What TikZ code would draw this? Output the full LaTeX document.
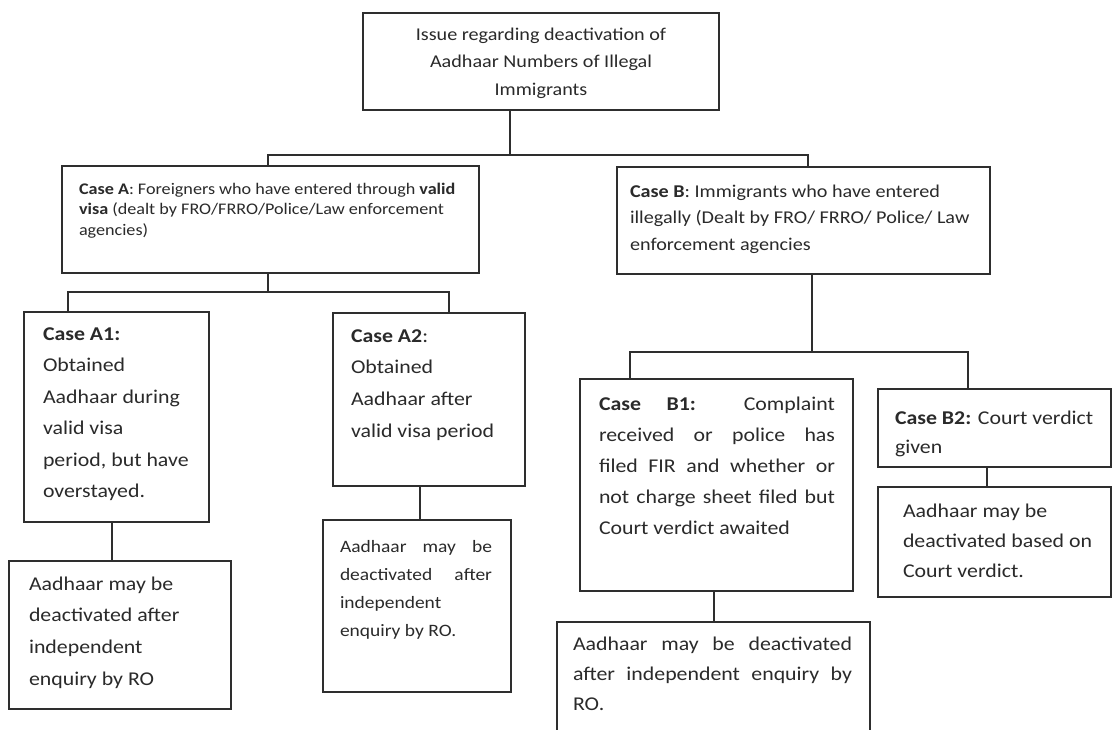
\documentclass[tikz,border=0pt]{standalone}
\usepackage{fontspec}
\setmainfont{Carlito}[FakeStretch=1.12]
\definecolor{linec}{HTML}{2E2E2E}
\definecolor{textc}{HTML}{2A2A2A}
\newcommand{\jl}[2]{\makebox[#1][s]{#2}}
\tikzset{
  box/.style={draw=linec, line width=1.3pt, inner sep=0pt, outer sep=0pt, anchor=north west},
  txt/.style={inner sep=0pt, outer sep=0pt, anchor=base west, text=textc},
  conn/.style={draw=linec, line width=1.3pt},
}
\begin{document}
\begin{tikzpicture}[x=1pt,y=-1pt]
\useasboundingbox (0,0) rectangle (1112,729);
\clip (0,0) rectangle (1112,729);
\fill[white] (0,0) rectangle (1112,729);

% boxes
\node[box, minimum width=356pt, minimum height=97pt]  (top)   at (363,13)  {};
\node[box, minimum width=417pt, minimum height=107pt] (caseA) at (62,166)  {};
\node[box, minimum width=373pt, minimum height=107pt] (caseB) at (617,167) {};
\node[box, minimum width=185pt, minimum height=210pt] (A1)    at (24,312)  {};
\node[box, minimum width=192pt, minimum height=173pt] (A2)    at (333,313) {};
\node[box, minimum width=222pt, minimum height=148pt] (A1res) at (9,561)   {};
\node[box, minimum width=188pt, minimum height=172pt] (A2res) at (323,520) {};
\node[box, minimum width=273pt, minimum height=212pt] (B1)    at (580,379) {};
\node[box, minimum width=313pt, minimum height=130pt] (B1res) at (557,622) {};
\node[box, minimum width=233pt, minimum height=78pt]  (B2)    at (878,389) {};
\node[box, minimum width=233pt, minimum height=110pt] (B2res) at (878,487) {};

% texts
\node[txt, anchor=base] (topT) at (541,40) {\parbox[t]{340pt}{\centering\fontsize{18}{27.5}\selectfont
  Issue regarding deactivation of\\ Aadhaar Numbers of Illegal\\ Immigrants}};
\node[txt] (caseAT) at (79,194) {\parbox[t]{400pt}{\raggedright\fontsize{16.2}{20.5}\selectfont
  \textbf{Case A}: Foreigners who have entered through \textbf{valid}\\
  \textbf{visa} (dealt by FRO/FRRO/Police/Law enforcement\\ agencies)}};
\node[txt] (caseBT) at (630,197) {\parbox[t]{360pt}{\raggedright\fontsize{18}{26.5}\selectfont
  \textbf{Case B}: Immigrants who have entered\\
  illegally (Dealt by FRO/ FRRO/ Police/ Law\\ enforcement agencies}};
\node[txt] (A1T) at (43,340) {\parbox[t]{200pt}{\raggedright\fontsize{19.5}{31.5}\selectfont
  \textbf{Case A1:}\\ Obtained\\ Aadhaar during\\ valid visa\\ period, but have\\ overstayed.}};
\node[txt] (A2T) at (351,342) {\parbox[t]{200pt}{\raggedright\fontsize{19.5}{31.7}\selectfont
  \textbf{Case A2}:\\ Obtained\\ Aadhaar after\\ valid visa period}};
\node[txt] (A1resT) at (29,590) {\parbox[t]{220pt}{\raggedright\fontsize{19.5}{31.7}\selectfont
  Aadhaar may be\\ deactivated after\\ independent\\ enquiry by RO}};
\node[txt] (A2resT) at (340,552) {\parbox[t]{152pt}{\raggedright\fontsize{17.4}{28}\selectfont
  \jl{152pt}{Aadhaar may be}\\ \jl{152pt}{deactivated after}\\ independent\\ enquiry by RO.}};
\node[txt] (B1T) at (599,410) {\parbox[t]{236pt}{\raggedright\fontsize{19.5}{31}\selectfont
  \jl{236pt}{\textbf{Case B1:} Complaint}\\ \jl{236pt}{received or police has}\\
  \jl{236pt}{filed FIR and whether or}\\ \jl{236pt}{not charge sheet filed but}\\ Court verdict awaited}};
\node[txt] (B1resT) at (573,650) {\parbox[t]{279pt}{\raggedright\fontsize{19.5}{30}\selectfont
  \jl{279pt}{Aadhaar may be deactivated}\\ \jl{279pt}{after independent enquiry by}\\ RO.}};
\node[txt] (B2T) at (895,424) {\parbox[t]{230pt}{\raggedright\fontsize{19.5}{29}\selectfont
  \textbf{Case B2:} Court verdict\\ given}};
\node[txt] (B2resT) at (903,517) {\parbox[t]{230pt}{\raggedright\fontsize{19.5}{30}\selectfont
  Aadhaar may be\\ deactivated based on\\ Court verdict.}};

% connector junctions
\coordinate (j0) at (510,155);
\coordinate (jA) at (268,155);
\coordinate (jB) at (808,155);
\coordinate (ka) at (268,292);
\coordinate (kA1) at (68,292);
\coordinate (kA2) at (449,292);
\coordinate (kb) at (812,352);
\coordinate (kB1) at (630,352);
\coordinate (kB2) at (968,352);
\coordinate (mA1) at (112,540);
\coordinate (mA2) at (420,500);
\coordinate (mB1) at (714,600);
\coordinate (mB2) at (987,475);

% connectors
\draw[conn] (j0 |- top.south) -- (j0);
\draw[conn] (jA |- caseA.north) -- (jA) -- (jB) -- (jB |- caseB.north);
\draw[conn] (ka |- caseA.south) -- (ka);
\draw[conn] (kA1 |- A1.north) -- (kA1) -- (kA2) -- (kA2 |- A2.north);
\draw[conn] (kb |- caseB.south) -- (kb);
\draw[conn] (kB1 |- B1.north) -- (kB1) -- (kB2) -- (kB2 |- B2.north);
\draw[conn] (mA1 |- A1.south) -- (mA1 |- A1res.north);
\draw[conn] (mA2 |- A2.south) -- (mA2 |- A2res.north);
\draw[conn] (mB1 |- B1.south) -- (mB1 |- B1res.north);
\draw[conn] (mB2 |- B2.south) -- (mB2 |- B2res.north);
\end{tikzpicture}
\end{document}
